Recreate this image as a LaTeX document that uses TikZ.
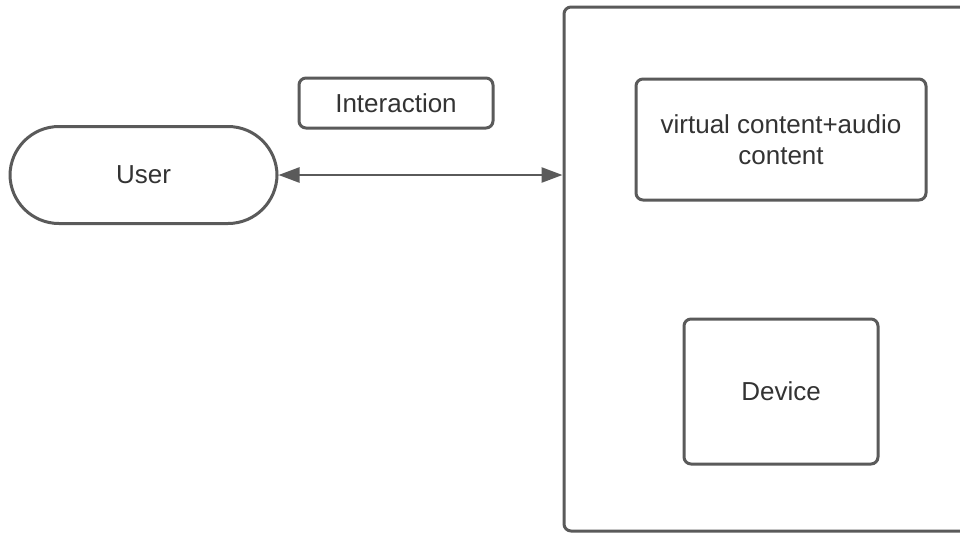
\documentclass[tikz,border=0pt]{standalone}
\usepackage{fontspec}
\setmainfont{Liberation Sans}
\usetikzlibrary{arrows.meta}
\definecolor{edge}{HTML}{5A5A5A}
\definecolor{ink}{HTML}{333333}
\begin{document}
\begin{tikzpicture}[x=1pt,y=-1pt,
  box/.style={draw=edge,line width=3pt,rounded corners=7pt,fill=white,
    text=ink,font=\fontsize{26}{31}\selectfont,align=center,inner sep=0pt},
  pill/.style={draw=edge,line width=3pt,rounded corners=49pt,fill=white,
    text=ink,font=\fontsize{26}{31}\selectfont,inner sep=0pt},
  link/.style={draw=edge,line width=2.5pt,
    {Triangle[length=21pt,width=15pt]}-{Triangle[length=21pt,width=15pt]}}]
\useasboundingbox (0,0) rectangle (960,533);
\fill[white] (0,0) rectangle (960,533);
\node[box,minimum width=411pt,minimum height=524pt] (sys) at (769.5,269) {};
\node[pill,minimum width=267pt,minimum height=97pt] (user) at (143.5,175) {User};
\node[box,minimum width=194pt,minimum height=50pt] (inter) at (396,103) {Interaction};
\node[box,minimum width=290pt,minimum height=121pt] (vc) at (781,139.5) {virtual content+audio\\content};
\node[box,minimum width=194pt,minimum height=145pt] (dev) at (781,391.5) {Device};
\draw[link] (user.east) -- (user.east -| sys.west);
\end{tikzpicture}
\end{document}
